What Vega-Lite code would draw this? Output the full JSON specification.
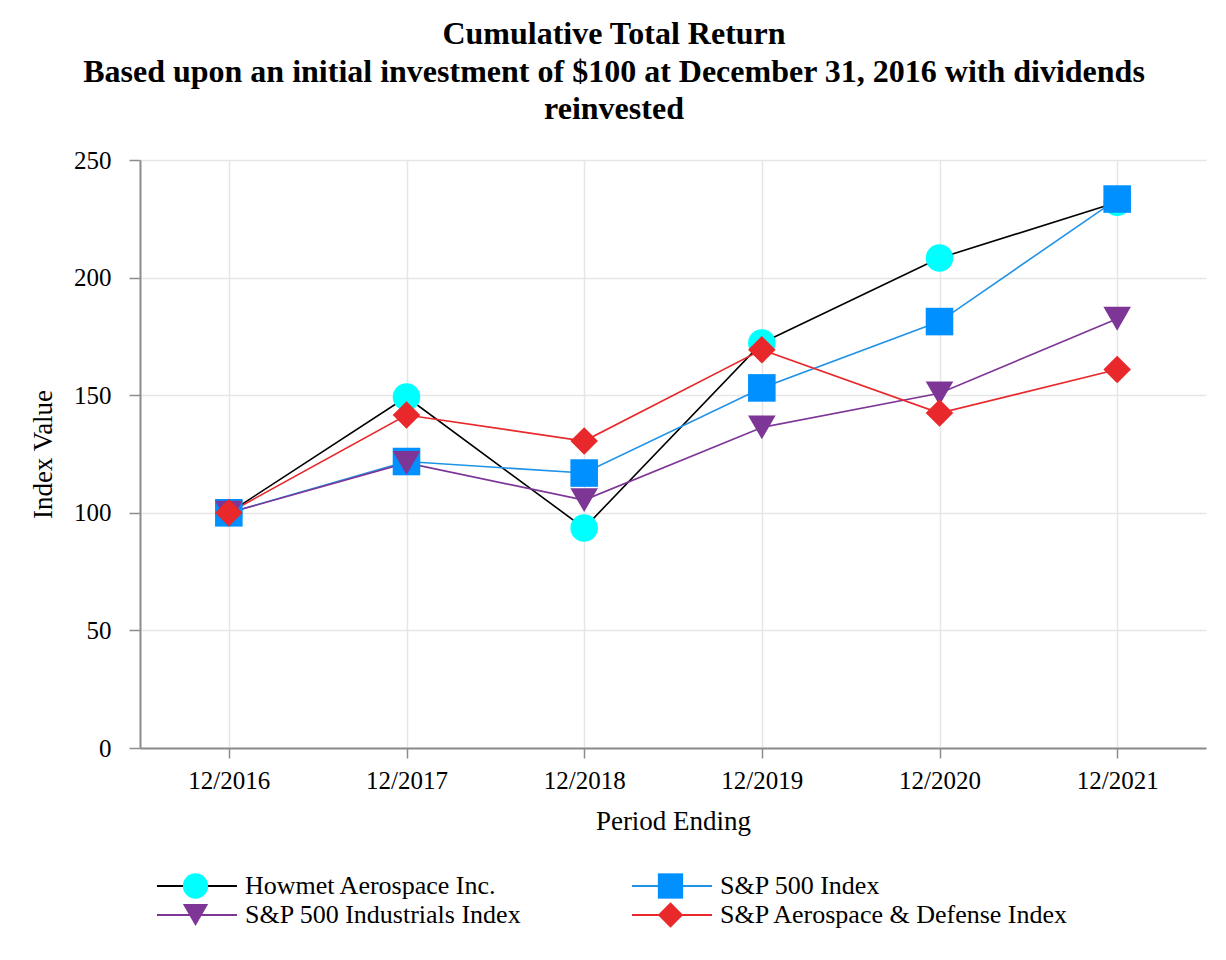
{
  "$schema": "https://vega.github.io/schema/vega-lite/v6.json",
  "width": 1066,
  "height": 588,
  "autosize": {"type": "none"},
  "padding": {"left": 140, "top": 160, "right": 20, "bottom": 212},
  "background": "white",
  "config": {"view": {"stroke": null}},
  "title": {
    "text": ["Cumulative Total Return", "Based upon an initial investment of $100 at December 31, 2016 with dividends", "reinvested"],
    "font": "Liberation Serif",
    "fontSize": 32,
    "fontWeight": "bold",
    "lineHeight": 37.5,
    "anchor": "middle",
    "dx": -59,
    "offset": 22,
    "color": "black"
  },
  "data": {
    "values": [
      {"series": "Howmet Aerospace Inc.", "period": "12/2016", "value": 100},
      {"series": "Howmet Aerospace Inc.", "period": "12/2017", "value": 149.2},
      {"series": "Howmet Aerospace Inc.", "period": "12/2018", "value": 93.5},
      {"series": "Howmet Aerospace Inc.", "period": "12/2019", "value": 172.2},
      {"series": "Howmet Aerospace Inc.", "period": "12/2020", "value": 208.3},
      {"series": "Howmet Aerospace Inc.", "period": "12/2021", "value": 232},
      {"series": "S&P 500 Index", "period": "12/2016", "value": 100},
      {"series": "S&P 500 Index", "period": "12/2017", "value": 121.8},
      {"series": "S&P 500 Index", "period": "12/2018", "value": 116.9},
      {"series": "S&P 500 Index", "period": "12/2019", "value": 153.1},
      {"series": "S&P 500 Index", "period": "12/2020", "value": 181.3},
      {"series": "S&P 500 Index", "period": "12/2021", "value": 233.4},
      {"series": "S&P 500 Industrials Index", "period": "12/2016", "value": 100},
      {"series": "S&P 500 Industrials Index", "period": "12/2017", "value": 121.2},
      {"series": "S&P 500 Industrials Index", "period": "12/2018", "value": 105.4},
      {"series": "S&P 500 Industrials Index", "period": "12/2019", "value": 136.3},
      {"series": "S&P 500 Industrials Index", "period": "12/2020", "value": 150.8},
      {"series": "S&P 500 Industrials Index", "period": "12/2021", "value": 182.5},
      {"series": "S&P Aerospace & Defense Index", "period": "12/2016", "value": 100},
      {"series": "S&P Aerospace & Defense Index", "period": "12/2017", "value": 141.6},
      {"series": "S&P Aerospace & Defense Index", "period": "12/2018", "value": 130.5},
      {"series": "S&P Aerospace & Defense Index", "period": "12/2019", "value": 169.3},
      {"series": "S&P Aerospace & Defense Index", "period": "12/2020", "value": 142.4},
      {"series": "S&P Aerospace & Defense Index", "period": "12/2021", "value": 160.9}
    ]
  },
  "encoding": {
    "x": {
      "field": "period",
      "type": "ordinal",
      "sort": null,
      "scale": {"type": "point", "padding": 0.5},
      "axis": {
        "title": "Period Ending",
        "labelAngle": 0,
        "labelFont": "Liberation Serif",
        "labelFontSize": 25,
        "labelColor": "black",
        "labelPadding": 10,
        "titleFont": "Liberation Serif",
        "titleFontSize": 27,
        "titleFontWeight": "normal",
        "titleColor": "black",
        "titlePadding": 15,
        "tickSize": 10,
        "tickColor": "#8c8c8c",
        "tickWidth": 1.5,
        "domainColor": "#8c8c8c",
        "domainWidth": 2,
        "grid": true,
        "gridColor": "#e6e6e6",
        "gridWidth": 1.5
      }
    },
    "y": {
      "field": "value",
      "type": "quantitative",
      "scale": {"domain": [0, 250], "nice": false},
      "axis": {
        "title": "Index Value",
        "values": [0, 50, 100, 150, 200, 250],
        "labelFont": "Liberation Serif",
        "labelFontSize": 25,
        "labelColor": "black",
        "labelPadding": 18,
        "titleFont": "Liberation Serif",
        "titleFontSize": 27,
        "titleFontWeight": "normal",
        "titleColor": "black",
        "titlePadding": 16,
        "tickSize": 11,
        "tickColor": "#8c8c8c",
        "tickWidth": 1.5,
        "domainColor": "#8c8c8c",
        "domainWidth": 2,
        "grid": true,
        "gridColor": "#e6e6e6",
        "gridWidth": 1.5
      }
    }
  },
  "layer": [
    {
      "mark": {"type": "line", "strokeWidth": 1.6},
      "encoding": {
        "stroke": {
          "field": "series",
          "type": "nominal",
          "scale": {"range": ["#000000", "#1f93e8", "#7d3596", "#e8282b"]},
          "legend": {
            "title": null,
            "orient": "none",
            "direction": "horizontal",
            "legendX": 15,
            "legendY": 713,
            "columns": 2,
            "columnPadding": 106,
            "rowPadding": 3,
            "symbolType": "M-4,0H4",
            "symbolSize": 400,
            "symbolStrokeWidth": 2,
            "symbolFillColor": "transparent",
            "symbolOffset": 29,
            "labelOffset": 35,
            "labelFont": "Liberation Serif",
            "labelFontSize": 26,
            "labelColor": "black",
            "labelLimit": 500
          }
        }
      }
    },
    {
      "mark": {"type": "point", "filled": true, "size": 760, "opacity": 1},
      "encoding": {
        "fill": {
          "field": "series",
          "type": "nominal",
          "scale": {
            "domain": ["Howmet Aerospace Inc.", "S&P 500 Index", "S&P 500 Industrials Index", "S&P Aerospace & Defense Index"],
            "range": ["#00ffff", "#0090ff", "#7d3596", "#e8282b"]
          },
          "legend": {
            "title": null,
            "orient": "none",
            "direction": "horizontal",
            "legendX": 15,
            "legendY": 713,
            "columns": 2,
            "columnPadding": 106,
            "rowPadding": 3,
            "symbolSize": 640,
            "symbolStrokeWidth": 0,
            "symbolOffset": 27.5,
            "labelOffset": 38,
            "labelFont": "Liberation Serif",
            "labelFontSize": 26,
            "labelColor": "transparent",
            "labelLimit": 500
          }
        },
        "shape": {
          "field": "series",
          "type": "nominal",
          "scale": {
            "domain": ["Howmet Aerospace Inc.", "S&P 500 Index", "S&P 500 Industrials Index", "S&P Aerospace & Defense Index"],
            "range": ["circle", "square", "triangle-down", "diamond"]
          },
          "legend": {
            "title": null,
            "orient": "none",
            "direction": "horizontal",
            "legendX": 15,
            "legendY": 713,
            "columns": 2,
            "columnPadding": 106,
            "rowPadding": 3,
            "symbolSize": 640,
            "symbolStrokeWidth": 0,
            "symbolOffset": 27.5,
            "labelOffset": 38,
            "labelFont": "Liberation Serif",
            "labelFontSize": 26,
            "labelColor": "transparent",
            "labelLimit": 500
          }
        }
      }
    }
  ]
}
